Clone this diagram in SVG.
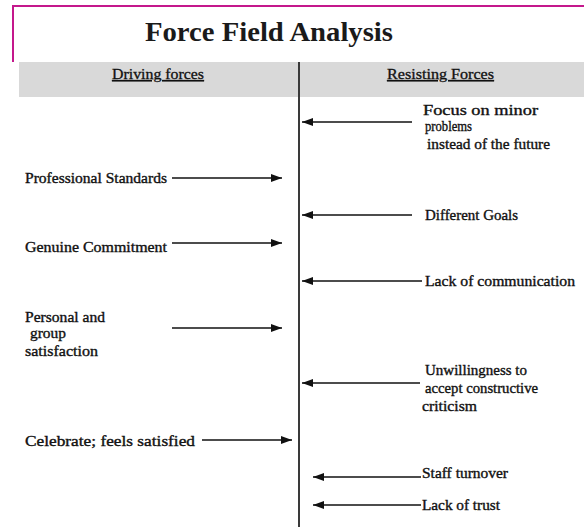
<svg xmlns="http://www.w3.org/2000/svg" width="584" height="527" viewBox="0 0 584 527">
  <style>
    .lbl { font-family: "Liberation Serif", "Times New Roman", serif; font-size: 14px; fill: #111; stroke: #111; stroke-width: 0.35; }
    .hdr { font-family: "Liberation Serif", "Times New Roman", serif; font-size: 14px; fill: #111; stroke: #111; stroke-width: 0.3; text-decoration: underline; }
    .title { font-family: "Liberation Serif", "Times New Roman", serif; font-size: 27px; font-weight: bold; fill: #1a1a1a; }
    .arrow { stroke: #111; stroke-width: 1.3; fill: none; marker-end: url(#head); }
  </style>
  <defs>
    <marker id="head" markerUnits="userSpaceOnUse" markerWidth="12" markerHeight="10" refX="11" refY="5" orient="auto">
      <path d="M0,1 L11,5 L0,9 Z" fill="#111"/>
    </marker>
  </defs>

  <rect width="584" height="527" fill="#ffffff"/>

  <!-- title frame -->
  <g id="title">
    <path d="M13,62 L13,6 L584,6" fill="none" stroke="#c4188c" stroke-width="2"/>
    <text class="title" x="145" y="41" textLength="248" lengthAdjust="spacingAndGlyphs">Force Field Analysis</text>
  </g>

  <!-- column header band -->
  <g id="header">
    <rect x="19" y="62" width="565" height="35" fill="#d9d9d9"/>
    <text class="hdr" x="112" y="79" textLength="92" lengthAdjust="spacingAndGlyphs">Driving forces</text>
    <text class="hdr" x="387" y="79" textLength="107" lengthAdjust="spacingAndGlyphs">Resisting Forces</text>
  </g>

  <!-- centre line -->
  <g id="divider">
    <line x1="299" y1="62" x2="299" y2="527" stroke="#3a3a3a" stroke-width="2"/>
  </g>

  <!-- driving forces -->
  <g id="drive-standards">
    <text class="lbl" x="25" y="183" textLength="142" lengthAdjust="spacingAndGlyphs">Professional Standards</text>
  </g>
  <g id="drive-commitment">
    <text class="lbl" x="25" y="252" textLength="142" lengthAdjust="spacingAndGlyphs">Genuine Commitment</text>
  </g>
  <g id="drive-satisfaction">
    <text class="lbl" x="25" y="322" textLength="80" lengthAdjust="spacingAndGlyphs">Personal and</text>
    <text class="lbl" x="30" y="338" textLength="36" lengthAdjust="spacingAndGlyphs">group</text>
    <text class="lbl" x="25" y="356" textLength="73" lengthAdjust="spacingAndGlyphs">satisfaction</text>
  </g>
  <g id="drive-celebrate">
    <text class="lbl" x="25" y="446" textLength="170" lengthAdjust="spacingAndGlyphs">Celebrate; feels satisfied</text>
  </g>

  <!-- resisting forces -->
  <g id="resist-focus">
    <text class="lbl" x="423" y="115" textLength="115" lengthAdjust="spacingAndGlyphs">Focus on minor</text>
    <text class="lbl" x="425" y="131" textLength="47" lengthAdjust="spacingAndGlyphs">problems</text>
    <text class="lbl" x="427" y="149" textLength="123" lengthAdjust="spacingAndGlyphs">instead of the future</text>
  </g>
  <g id="resist-goals">
    <text class="lbl" x="425" y="220" textLength="93" lengthAdjust="spacingAndGlyphs">Different Goals</text>
  </g>
  <g id="resist-communication">
    <text class="lbl" x="425" y="286" textLength="150" lengthAdjust="spacingAndGlyphs">Lack of communication</text>
  </g>
  <g id="resist-criticism">
    <text class="lbl" x="425" y="375" textLength="102" lengthAdjust="spacingAndGlyphs">Unwillingness to</text>
    <text class="lbl" x="425" y="393" textLength="113" lengthAdjust="spacingAndGlyphs">accept constructive</text>
    <text class="lbl" x="422" y="411" textLength="55" lengthAdjust="spacingAndGlyphs">criticism</text>
  </g>
  <g id="resist-turnover">
    <text class="lbl" x="422" y="478" textLength="86" lengthAdjust="spacingAndGlyphs">Staff turnover</text>
  </g>
  <g id="resist-trust">
    <text class="lbl" x="422" y="510" textLength="78" lengthAdjust="spacingAndGlyphs">Lack of trust</text>
  </g>

  <!-- force arrows -->
  <g id="connectors">
    <line class="arrow" x1="172" y1="178" x2="282" y2="178"/>
    <line class="arrow" x1="172" y1="243" x2="282" y2="243"/>
    <line class="arrow" x1="172" y1="328" x2="282" y2="328"/>
    <line class="arrow" x1="202" y1="440" x2="292" y2="440"/>
    <line class="arrow" x1="412" y1="122" x2="302" y2="122"/>
    <line class="arrow" x1="412" y1="215" x2="302" y2="215"/>
    <line class="arrow" x1="422" y1="281" x2="302" y2="281"/>
    <line class="arrow" x1="420" y1="383" x2="302" y2="383"/>
    <line class="arrow" x1="421" y1="477" x2="313" y2="477"/>
    <line class="arrow" x1="421" y1="505" x2="313" y2="505"/>
  </g>
</svg>
